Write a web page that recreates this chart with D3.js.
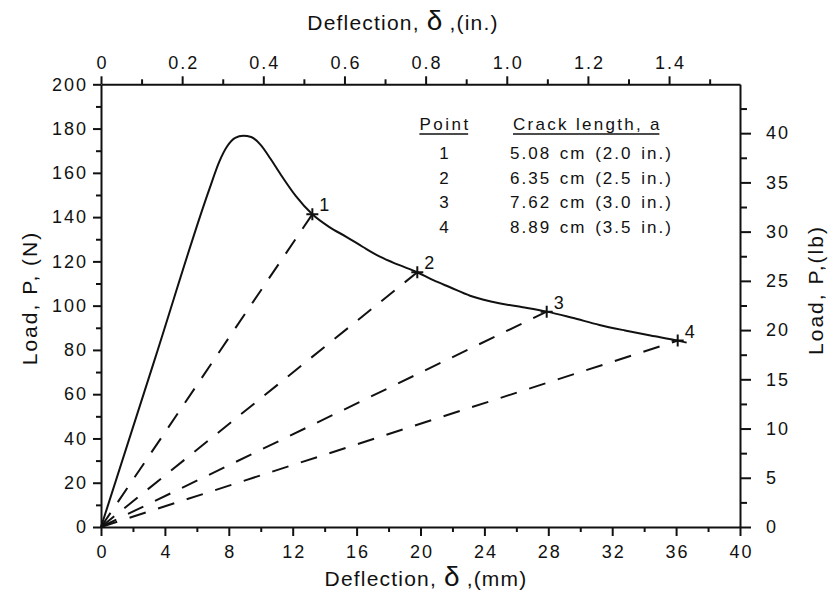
<!DOCTYPE html>
<html>
<head>
<meta charset="utf-8">
<script src="https://cdn.jsdelivr.net/npm/d3@7"></script>
<style>
    body { margin: 0; background: #fff; }
    text { font-family: "Liberation Sans", Arial, Helvetica, sans-serif; fill: #111; }
</style>
</head>
<body>
<svg id="chart" width="832" height="594"></svg>
<script>

// load - deflection record (mm, N)
var curveDefl = [0, 3.4, 6.8, 7.4, 7.9, 8.4, 8.9, 9.4, 9.95, 10.6, 11.2, 12.2, 13.23, 14.3, 15.38, 16.4, 17.46, 18.6, 19.8, 20.8, 21.85, 23.1, 25.0, 26.4, 27.9, 29.5, 31.2, 32.8, 34.4, 36.1, 36.66];
var curveLoad = [0, 76.5, 153, 165, 172, 175.8, 176.8, 176.2, 173, 166.5, 159.8, 149.5, 141.3, 135.5, 131, 126.5, 122.1, 118.5, 115.1, 111.5, 108.3, 104.5, 101, 99.3, 97.3, 94.5, 91.3, 88.8, 86.5, 84.2, 83.3];

// crack length points
var pointIds = ["1", "2", "3", "4"];
var pointDefl = [13.23, 19.8, 27.9, 36.1];
var pointLoad = [141.3, 115.1, 97.3, 84.2];
var crackLabels = ["5.08 cm (2.0 in.)", "6.35 cm (2.5 in.)", "7.62 cm (3.0 in.)", "8.89 cm (3.5 in.)"];

// tick labels
var mmTicks = [0, 4, 8, 12, 16, 20, 24, 28, 32, 36, 40];
var mmMinor = [2, 6, 10, 14, 18, 22, 26, 30, 34, 38];
var inTicks = [0, 0.2, 0.4, 0.6, 0.8, 1.0, 1.2, 1.4];
var inMinor = [0.1, 0.3, 0.5, 0.7, 0.9, 1.1, 1.3, 1.5];
var nTicks = [0, 20, 40, 60, 80, 100, 120, 140, 160, 180, 200];
var nMinor = [10, 30, 50, 70, 90, 110, 130, 150, 170, 190];
var lbTicks = [0, 5, 10, 15, 20, 25, 30, 35, 40];
var lbMinor = [2.5, 7.5, 12.5, 17.5, 22.5, 27.5, 32.5, 37.5, 42.5];

var MM_PER_IN = 25.4, N_PER_LB = 4.448;

(function() {

    var plotLeft = 101, plotRight = 740, plotTop = 84.3, plotBottom = 527;

    var svg = d3.select("#chart");

    var x = d3.scaleLinear().domain([0, 40]).range([plotLeft, plotRight]);
    var xIn = d3.scaleLinear().domain([0, 40 / MM_PER_IN]).range([plotLeft, plotRight]);
    var y = d3.scaleLinear().domain([0, 200]).range([plotBottom, plotTop]);
    var yLb = d3.scaleLinear().domain([0, 200 / N_PER_LB]).range([plotBottom, plotTop]);

    function styleAxis(g) {
        g.select(".domain").attr("stroke", "#111").attr("stroke-width", 2);
        g.selectAll(".tick line").attr("stroke", "#111").attr("stroke-width", 2);
        g.selectAll(".tick text")
            .attr("fill", "#111")
            .style("font-size", "18px")
            .style("letter-spacing", "2px");
    }

    function addAxis(axisFn, scale, major, minor, fmt, transform, majLen, minLen, pad) {
        svg.append("g")
            .attr("transform", transform)
            .call(axisFn(scale).tickValues(minor).tickSize(minLen).tickSizeOuter(0).tickFormat(""))
            .call(styleAxis)
            .select(".domain").remove();
        return svg.append("g")
            .attr("transform", transform)
            .call(axisFn(scale).tickValues(major).tickSize(majLen).tickSizeOuter(0).tickPadding(pad).tickFormat(fmt))
            .call(styleAxis);
    }

    // bottom (mm), top (in.), left (N), right (lb)
    var bx = addAxis(d3.axisBottom, x, mmTicks, mmMinor, d3.format("d"), "translate(0," + plotBottom + ")", 9, 5, 9);
    var tx = addAxis(d3.axisTop, xIn, inTicks, inMinor, function(d) { return d === 0 ? "0" : d3.format(".1f")(d); },
        "translate(0," + plotTop + ")", 8, 5, 7);
    addAxis(d3.axisLeft, y, nTicks, nMinor, d3.format("d"), "translate(" + plotLeft + ",0)", 8, 5, 5);
    addAxis(d3.axisRight, yLb, lbTicks, lbMinor, d3.format("d"), "translate(" + plotRight + ",0)", 11, 7, 15);

    // letter-spacing adds a trailing gap; shift centred labels back by half of it
    bx.selectAll(".tick text").attr("dx", 1);
    tx.selectAll(".tick text").attr("dx", 1);

    // axis titles
    function deflTitle(xc, yb, unit) {
        var t = svg.append("text")
            .attr("x", xc).attr("y", yb)
            .attr("text-anchor", "middle")
            .style("font-size", "21px")
            .style("letter-spacing", "1.2px");
        t.append("tspan").text("Deflection,  ");
        t.append("tspan").style("font-size", "28px").style("letter-spacing", "0px").text("\u03b4");
        t.append("tspan").text(" ," + unit);
    }
    deflTitle(403, 30, "(in.)");
    deflTitle(426, 586, "(mm)");

    svg.append("text")
        .attr("transform", "translate(37,298) rotate(-90)")
        .attr("text-anchor", "middle")
        .style("font-size", "21px")
        .style("letter-spacing", "2px")
        .text("Load, P, (N)");

    svg.append("text")
        .attr("transform", "translate(823,290) rotate(-90)")
        .attr("text-anchor", "middle")
        .style("font-size", "21px")
        .style("letter-spacing", "2px")
        .text("Load,  P,(lb)");

    // load - deflection curve
    var curveData = curveDefl.map(function(d, i) { return [d, curveLoad[i]]; });
    var line = d3.line()
        .x(function(d) { return x(d[0]); })
        .y(function(d) { return y(d[1]); })
        .curve(d3.curveMonotoneX);

    svg.append("path")
        .datum(curveData)
        .attr("d", line)
        .attr("fill", "none")
        .attr("stroke", "#111")
        .attr("stroke-width", 2);

    // secant lines from the origin
    var points = pointIds.map(function(id, i) {
        return { id: id, defl: pointDefl[i], load: pointLoad[i] };
    });

    svg.selectAll(".secant")
        .data(points)
        .enter().append("line")
        .attr("class", "secant")
        .attr("x1", x(0)).attr("y1", y(0))
        .attr("x2", function(d) { return x(d.defl); })
        .attr("y2", function(d) { return y(d.load); })
        .attr("stroke", "#111")
        .attr("stroke-width", 2)
        .attr("stroke-dasharray", "17,13");

    // + markers and numbers
    var marks = svg.selectAll(".mark")
        .data(points)
        .enter().append("g")
        .attr("class", "mark")
        .attr("transform", function(d) { return "translate(" + x(d.defl) + "," + y(d.load) + ")"; });

    marks.append("path")
        .attr("d", "M-6,0H6M0,-6V6")
        .attr("stroke", "#111")
        .attr("stroke-width", 2);

    marks.append("text")
        .attr("x", 7).attr("y", -3)
        .style("font-size", "18px")
        .text(function(d) { return d.id; });

    // crack length table
    var table = svg.append("g");
    var headY = 130, rowStep = 24.7, colPoint = 444, colCrack = 510;

    var h1 = table.append("text").attr("x", colPoint + 1).attr("y", headY)
        .attr("text-anchor", "middle").style("font-size", "17px").style("letter-spacing", "2.5px").text("Point");
    var h2 = table.append("text").attr("x", colCrack + 3).attr("y", headY)
        .style("font-size", "17px").style("letter-spacing", "2.3px").text("Crack length, a");

    [h1, h2].forEach(function(h) {
        var b = h.node().getBBox();
        table.append("line")
            .attr("x1", b.x).attr("x2", b.x + b.width - 2.5)
            .attr("y1", headY + 4).attr("y2", headY + 4)
            .attr("stroke", "#111").attr("stroke-width", 1.5);
    });

    table.selectAll(".row-id")
        .data(points)
        .enter().append("text")
        .attr("x", colPoint)
        .attr("y", function(d, i) { return headY + 29 + i * rowStep; })
        .attr("text-anchor", "middle")
        .style("font-size", "17px")
        .text(function(d) { return d.id; });

    table.selectAll(".row-crack")
        .data(crackLabels)
        .enter().append("text")
        .attr("x", colCrack)
        .attr("y", function(d, i) { return headY + 29 + i * rowStep; })
        .style("font-size", "17px")
        .style("letter-spacing", "2px")
        .style("word-spacing", "2px")
        .text(function(d) { return d; });

})();

</script>
</body>
</html>
